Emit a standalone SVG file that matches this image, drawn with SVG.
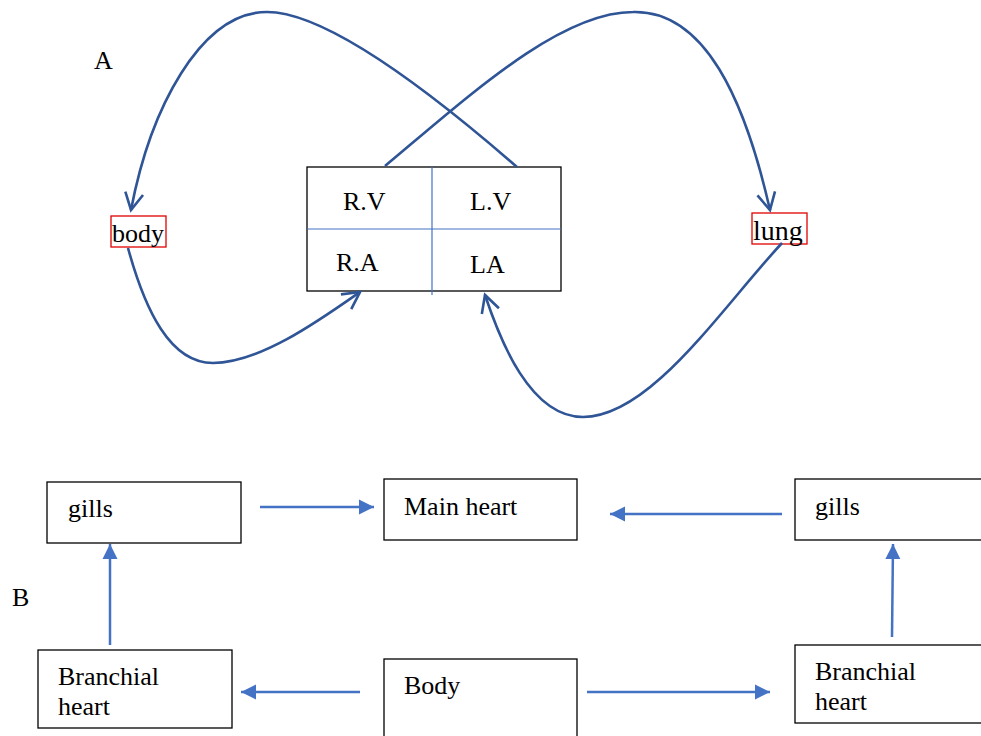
<svg xmlns="http://www.w3.org/2000/svg" width="981" height="736" viewBox="0 0 981 736">
<style>
text{font-family:"Liberation Serif","Times New Roman",serif;font-size:26px;fill:#000}
.box{fill:#fff;stroke:#000;stroke-width:1.3}
.rbox{fill:none;stroke:#e00000;stroke-width:1.3}
.div{stroke:#4472C4;stroke-width:1.2;fill:none}
.curve{fill:none;stroke:#2F5597;stroke-width:2.6;marker-end:url(#open)}
.arr{fill:none;stroke:#4472C4;stroke-width:2.5;marker-end:url(#solid)}
</style>
<defs>
<marker id="open" markerUnits="userSpaceOnUse" viewBox="-20 -12 24 24" refX="0" refY="0" markerWidth="24" markerHeight="24" orient="auto">
<path d="M-17,-9 L0,0 L-17,9" fill="none" stroke="#2F5597" stroke-width="2.6" stroke-linejoin="miter"/>
</marker>
<marker id="solid" markerUnits="userSpaceOnUse" viewBox="-16 -8 17 16" refX="0" refY="0" markerWidth="17" markerHeight="16" orient="auto">
<path d="M-15,-7.5 L0,0 L-15,7.5 Z" fill="#4472C4"/>
</marker>
</defs>
<rect width="981" height="736" fill="#fff"/>

<g id="labelA"><text x="94" y="69">A</text></g>
<g id="labelB"><text x="12" y="606">B</text></g>

<g id="heart">
<rect class="box" x="307" y="167" width="254" height="124"/>
<line class="div" x1="307" y1="229" x2="561" y2="229"/>
<line class="div" x1="432" y1="167" x2="432" y2="295"/>
<text x="343" y="210">R.V</text>
<text x="470" y="210">L.V</text>
<text x="336" y="271">R.A</text>
<text x="470" y="273">LA</text>
</g>

<g id="body-top">
<rect class="rbox" x="111" y="216" width="55" height="31"/>
<text x="112" y="242">body</text>
</g>
<g id="lung">
<rect class="rbox" x="752" y="213" width="55" height="31"/>
<text x="753" y="240" style="font-size:28px">lung</text>
</g>

<g id="gills-left"><rect class="box" x="47" y="482" width="194" height="61"/><text x="68" y="517">gills</text></g>
<g id="main-heart"><rect class="box" x="384" y="479" width="193" height="61"/><text x="404" y="515">Main heart</text></g>
<g id="gills-right"><rect class="box" x="795" y="479" width="200" height="61"/><text x="815" y="515">gills</text></g>
<g id="branchial-left"><rect class="box" x="38" y="650" width="194" height="78"/><text x="58" y="685">Branchial</text><text x="58" y="715">heart</text></g>
<g id="body-bottom"><rect class="box" x="384" y="659" width="193" height="90"/><text x="404" y="694">Body</text></g>
<g id="branchial-right"><rect class="box" x="795" y="645" width="200" height="78"/><text x="815" y="680">Branchial</text><text x="815" y="710">heart</text></g>

<g id="connectors">
<path class="curve" d="M517,167 C440,100 330,12 267,12 C200,12 150,110 131,210"/>
<path class="curve" d="M385,166 C470,95 560,12 633,12 C705,10 745,100 770,210"/>
<path class="curve" d="M128,248 C145,310 170,363 213,363 C260,363 320,320 360,292"/>
<path class="curve" d="M782,243 C720,310 650,417 583,417 C530,417 500,340 485,295"/>
<path class="arr" d="M260,507 L374,507"/>
<path class="arr" d="M782,514 L610,514"/>
<path class="arr" d="M110,645 L110,544"/>
<path class="arr" d="M892,637 L893,544"/>
<path class="arr" d="M360,692 L241,692"/>
<path class="arr" d="M587,692 L770,692"/>
</g>
</svg>
